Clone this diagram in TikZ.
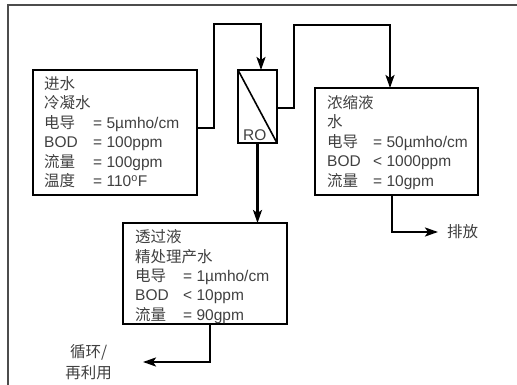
\documentclass[tikz,border=0pt]{standalone}
\usepackage{fontspec}
\setmainfont{Liberation Sans}
\newfontfamily\cjk{Noto Sans CJK SC}
\usetikzlibrary{arrows.meta,positioning}
\newcommand\zh[1]{{\cjk #1}}
\newcommand\hd[1]{\multicolumn{2}{@{}l@{}}{\cjk #1}}

\begin{document}
\begin{tikzpicture}[x=1pt,y=-1pt,
  box/.style={draw=black, line width=2pt, anchor=north west, inner sep=0pt, outer sep=0pt},
  info/.style={anchor=base west, inner sep=0pt, text=black!75, font=\fontsize{15.5}{19.5}\selectfont},
  lbl/.style={inner sep=0pt, text=black!75, font=\fontsize{15.5}{21}\selectfont},
  flow/.style={line width=2.2pt, -{Stealth[length=13pt,width=9pt,inset=3pt]}}]
  \useasboundingbox (0,0) rectangle (517,385);
  \draw [black!70, line width=1.5pt] (8,385) -- (8,5) -- (517,5);

  % boxes
  \node[box, minimum width=164pt, minimum height=125pt] (feed) at (33,70) {};
  \node[box, minimum width=39pt, minimum height=73pt] (ro) at (238,70) {};
  \node[box, minimum width=163pt, minimum height=107pt] (conc) at (315,88) {};
  \node[box, minimum width=164pt, minimum height=101pt] (perm) at (123,223) {};
  \draw [line width=1.6pt] (ro.north west) -- (ro.south east);
  \node[lbl, anchor=base west] (rotxt) at ([shift={(5pt,2pt)}]ro.south west) {RO};

  % box texts
  \node[info] (feedtxt) at (44,89.5) {\begin{tabular}[t]{@{}p{49pt}@{}l@{}}
    \hd{进水}\\
    \hd{冷凝水}\\
    \zh{电导} & = 5µmho/cm\\
    BOD & = 100ppm\\
    \zh{流量} & = 100gpm\\
    \zh{温度} & = 110\textsuperscript{o}F
  \end{tabular}};
  \node[info] (conctxt) at (327,108.5) {\begin{tabular}[t]{@{}p{46pt}@{}l@{}}
    \hd{浓缩液}\\
    \hd{水}\\
    \zh{电导} & = 50µmho/cm\\
    BOD & < 1000ppm\\
    \zh{流量} & = 10gpm
  \end{tabular}};
  \node[info] (permtxt) at (135,242.5) {\begin{tabular}[t]{@{}p{48pt}@{}l@{}}
    \hd{透过液}\\
    \hd{精处理产水}\\
    \zh{电导} & = 1µmho/cm\\
    BOD & < 10ppm\\
    \zh{流量} & = 90gpm
  \end{tabular}};

  % flows
  \coordinate (drain) at (438,232);
  \coordinate (recyc) at (143,362);
  \draw[flow] ([yshift=4.5pt]feed.east) -| (214,24) -| ([xshift=3.5pt]ro.north);
  \draw[flow] ([yshift=-1.5pt]ro.east) -| (294,25) -| ([xshift=-6.5pt]conc.north);
  \draw[flow] (ro.south) -- (ro.south |- perm.north);
  \draw[flow] ([xshift=-4.5pt]conc.south) |- (drain);
  \draw[flow] ([xshift=5pt]perm.south) |- (recyc);
  \node[lbl, right=9pt of drain] (draintxt) {\zh{排放}};
  \node[lbl, left=31pt of recyc, align=center] (recyctxt) {\zh{循环/}\\\zh{再利用}};
\end{tikzpicture}
\end{document}
